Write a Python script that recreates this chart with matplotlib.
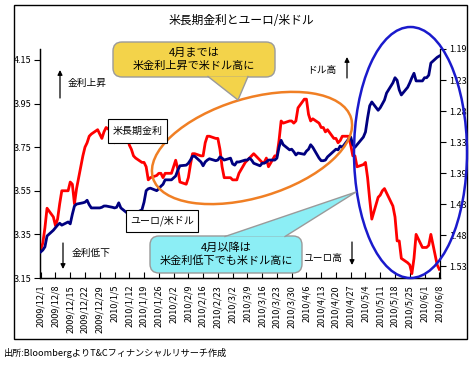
import matplotlib
matplotlib.use("Agg")
import matplotlib.pyplot as plt
import matplotlib.transforms as mtransforms
from matplotlib.patches import Rectangle, Ellipse, FancyBboxPatch, Polygon, FancyArrowPatch
import numpy as np
import pandas as pd

plt.rcParams['font.family'] = ['Noto Sans CJK JP', 'DejaVu Sans']

# business days 2009/12/1 .. 2010/6/8
dates = pd.bdate_range('2009-12-01', '2010-06-08')

# US 10y yield (left axis, %)
us10y = [
    3.28, 3.31, 3.38, 3.47, 3.43,
    3.39, 3.42, 3.49, 3.55, 3.55,
    3.59, 3.58, 3.49, 3.56, 3.71,
    3.75, 3.77, 3.80, 3.81, 3.83,
    3.81, 3.79, 3.82, 3.84, 3.82,
    3.77, 3.82, 3.83, 3.83, 3.82,
    3.76, 3.74, 3.71, 3.70, 3.68,
    3.68, 3.66, 3.60, 3.61, 3.62,
    3.63, 3.63, 3.61, 3.63, 3.63,
    3.66, 3.69, 3.65, 3.59, 3.58,
    3.61, 3.67, 3.72, 3.72, 3.71,
    3.71, 3.77, 3.80, 3.80, 3.79,
    3.79, 3.74, 3.66, 3.61, 3.61,
    3.60, 3.60, 3.60, 3.63, 3.68,
    3.69, 3.70, 3.71, 3.72, 3.69,
    3.68, 3.68, 3.70, 3.66, 3.71,
    3.71, 3.78, 3.87, 3.86, 3.87,
    3.87, 3.86, 3.87, 3.93, 3.97,
    3.97, 3.90, 3.87, 3.88, 3.86,
    3.84, 3.84, 3.82, 3.83, 3.79,
    3.79, 3.77, 3.78, 3.80, 3.80,
    3.76, 3.71, 3.71, 3.66, 3.67,
    3.68, 3.61, 3.51, 3.42, 3.52,
    3.53, 3.55, 3.56, 3.54, 3.48,
    3.43, 3.32, 3.32, 3.24, 3.22,
    3.21, 3.17, 3.24, 3.35, 3.29,
    3.29, 3.29, 3.30, 3.35, 3.21,
    3.19,
]

# EUR/USD (right axis, inverted)
eurusd = [
    1.508, 1.505, 1.500, 1.483, 1.474,
    1.470, 1.466, 1.463, 1.466, 1.461,
    1.464, 1.449, 1.436, 1.433, 1.431,
    1.430, 1.427, 1.434, 1.439, 1.439,
    1.439, 1.438, 1.436, 1.436, 1.438,
    1.439, 1.438, 1.431, 1.439, 1.447,
    1.449, 1.450, 1.450, 1.447, 1.442,
    1.430, 1.412, 1.409, 1.408, 1.412,
    1.409, 1.405, 1.402, 1.395, 1.395,
    1.392, 1.389, 1.380, 1.373, 1.372,
    1.369, 1.364, 1.358, 1.358, 1.367,
    1.373, 1.367, 1.364, 1.362, 1.365,
    1.364, 1.359, 1.361, 1.364, 1.361,
    1.370, 1.372, 1.367, 1.367, 1.364,
    1.364, 1.361, 1.364, 1.369, 1.373,
    1.369, 1.369, 1.367, 1.364, 1.364,
    1.361, 1.344, 1.333, 1.340, 1.348,
    1.347, 1.351, 1.356, 1.353, 1.355,
    1.350, 1.347, 1.340, 1.344, 1.361,
    1.365, 1.365, 1.364, 1.359, 1.350,
    1.347, 1.348, 1.342, 1.344, 1.331,
    1.328, 1.340, 1.344, 1.340, 1.328,
    1.320, 1.298, 1.279, 1.273, 1.286,
    1.282, 1.276, 1.270, 1.259, 1.243,
    1.235, 1.239, 1.254, 1.262, 1.250,
    1.243, 1.235, 1.228, 1.240, 1.240,
    1.235, 1.235, 1.231, 1.212, 1.203,
    1.201,
]

week_ticks = pd.date_range('2009-12-01', '2010-06-08', freq='7D')
week_labels = ['2009/12/1', '2009/12/8', '2009/12/15', '2009/12/22', '2009/12/29',
               '2010/1/5', '2010/1/12', '2010/1/19', '2010/1/26', '2010/2/2',
               '2010/2/9', '2010/2/16', '2010/2/23', '2010/3/2', '2010/3/9',
               '2010/3/16', '2010/3/23', '2010/3/30', '2010/4/6', '2010/4/13',
               '2010/4/20', '2010/4/27', '2010/5/4', '2010/5/11', '2010/5/18',
               '2010/5/25', '2010/6/1', '2010/6/8']
left_ticks = [3.15, 3.35, 3.55, 3.75, 3.95, 4.15]
left_labels = ['3.15', '3.35', '3.55', '3.75', '3.95', '4.15']
right_labels = ['1.19', '1.23', '1.28', '1.33', '1.39', '1.43', '1.48', '1.53']

DPI = 100
W, H = 472, 366
fig = plt.figure(figsize=(W / DPI, H / DPI), dpi=DPI)
px = mtransforms.Affine2D().scale(1 / DPI) + fig.dpi_scale_trans

ax = fig.add_axes([40 / W, (H - 278) / H, 400 / W, 229 / H])
ax2 = ax.twinx()

ax.plot(dates, us10y, color='#FF0000', lw=2.0, zorder=3)
ax2.plot(dates, eurusd, color='#000080', lw=2.0, zorder=3)

ax.set_xlim(pd.Timestamp('2009-12-01') - pd.Timedelta(hours=8),
            pd.Timestamp('2010-06-08') + pd.Timedelta(hours=8))
ax.set_ylim(3.15, 4.2)
ax2.set_ylim(1.5488, 1.19)

ax.set_xticks(week_ticks)
ax.set_xticklabels(week_labels, rotation=90, va='top', ha='center')
ax.set_yticks(left_ticks)
ax.set_yticklabels(left_labels)
ax2.set_yticks(np.linspace(1.19, 1.53, 8))
ax2.set_yticklabels(right_labels)

for a in (ax, ax2):
    a.spines['top'].set_visible(False)
    for s in a.spines.values():
        s.set_linewidth(0.9)
ax.spines['right'].set_visible(False)
ax.tick_params(axis='x', direction='in', length=4, width=0.8, labelsize=6.5, pad=5)
ax.tick_params(axis='y', direction='out', length=4, width=0.8, labelsize=6.5, pad=2)
ax2.tick_params(axis='y', direction='out', length=4, width=0.8, labelsize=6.5, pad=3)


def P(x, y):
    return (x, H - y)


# outer frame
fig.add_artist(Rectangle(P(14, 339), 453, 334, transform=px, fill=False,
                         ec='black', lw=1.0))

fig.text(*P(241, 20), '米長期金利とユーロ/米ドル', transform=px, ha='center',
         va='center', fontsize=8.5)

# ellipses
fig.add_artist(Ellipse(P(252, 148), 207, 99, angle=16.9, transform=px,
                       fill=False, ec='#F07F24', lw=1.8, zorder=5))
fig.add_artist(Ellipse(P(410.5, 152.5), 113, 251, transform=px,
                       fill=False, ec='#1A1ACC', lw=1.8, zorder=5))


def callout(x0, y0, x1, y1, base, tip, fc, text):
    fig.add_artist(FancyBboxPatch(P(x0, y1), x1 - x0, y1 - y0,
                                  boxstyle='round,pad=0,rounding_size=9',
                                  transform=px, fc=fc, ec='#9A9A9A', lw=1.0,
                                  zorder=6))
    pts = [P(*base[0]), P(*tip), P(*base[1])]
    fig.add_artist(Polygon(pts, closed=True, transform=px, fc=fc, ec='none',
                           zorder=7))
    xs = [p[0] for p in pts]
    ys = [p[1] for p in pts]
    fig.add_artist(plt.Line2D(xs, ys, transform=px, color='#9A9A9A', lw=1.0,
                              zorder=7))
    fig.text((x0 + x1) / 2, H - (y0 + y1) / 2, text, transform=px,
             ha='center', va='center', fontsize=8, linespacing=1.3, zorder=8)


callout(113, 42, 275, 77, [(208, 76.5), (248, 76.5)], (238, 100), '#F3D34A',
        '4月までは\n米金利上昇で米ドル高に')
callout(150, 236, 302, 273, [(225, 236.5), (285, 236.5)], (356, 192), '#8CEEF5',
        '4月以降は\n米金利低下でも米ドル高に')

# series labels
for (x0, y0, x1, y1, s) in [(108, 119, 167, 143, '米長期金利'),
                            (126, 210, 198, 232, 'ユーロ/米ドル')]:
    fig.add_artist(Rectangle(P(x0, y1), x1 - x0, y1 - y0, transform=px,
                             fc='white', ec='black', lw=0.8, zorder=6))
    fig.text((x0 + x1) / 2, H - (y0 + y1) / 2, s, transform=px, ha='center',
             va='center', fontsize=7.2, zorder=7)


def arrow(x, y0, y1):
    fig.add_artist(FancyArrowPatch(P(x, y0), P(x, y1), transform=px,
                                   arrowstyle='-|>', mutation_scale=7,
                                   lw=0.9, color='black', shrinkA=0, shrinkB=0))


arrow(60, 98, 70)
fig.text(*P(68, 83), '金利上昇', transform=px, ha='left', va='center', fontsize=7)
arrow(63, 243, 269)
fig.text(*P(72, 253), '金利低下', transform=px, ha='left', va='center', fontsize=7)
arrow(347, 78, 57)
fig.text(*P(336, 70), 'ドル高', transform=px, ha='right', va='center', fontsize=7)
arrow(352, 242, 265)
fig.text(*P(342, 258), 'ユーロ高', transform=px, ha='right', va='center', fontsize=7)

fig.text(*P(4, 353), '出所:BloombergよりT&Cフィナンシャルリサーチ作成',
         transform=px, ha='left', va='center', fontsize=6.6)

fig.savefig('out.png', dpi=DPI)
